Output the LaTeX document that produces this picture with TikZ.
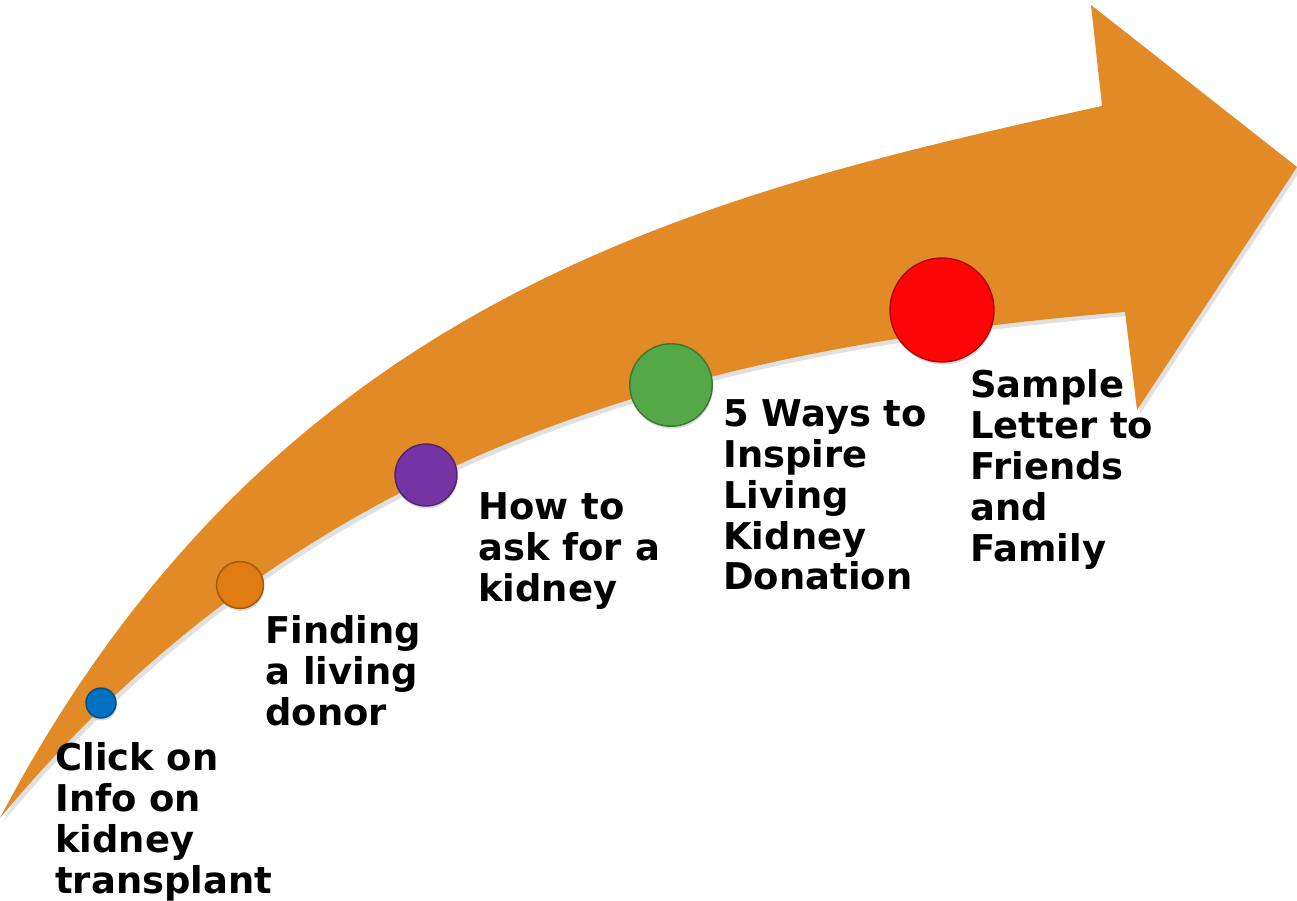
\documentclass[tikz,border=0pt]{standalone}
\usepackage{fontspec}
\setmainfont{DejaVu Sans}
\usepackage{tikz}
\usetikzlibrary{positioning,shadows}

\definecolor{arroworange}{RGB}{225,138,38}
\definecolor{ballblue}{RGB}{0,112,192}
\definecolor{ballorange}{RGB}{222,124,18}
\definecolor{ballpurple}{RGB}{116,52,164}
\definecolor{ballgreen}{RGB}{84,168,72}
\definecolor{ballred}{RGB}{255,6,6}

\begin{document}
\begin{tikzpicture}[
x=0.02cm, y=-0.02cm,
ball/.style={circle, inner sep=0pt, fill=#1, draw=#1!70!black, line width=0.8pt,
  drop shadow={opacity=0.3, shadow xshift=0.4pt, shadow yshift=-1.4pt}},
step label/.style={anchor=north west, inner sep=0pt, align=left,
  font=\fontsize{21}{23.3}\selectfont\bfseries},
]

\useasboundingbox (0,0) rectangle (1297,901);

% shadow of the arrow
\fill[black, opacity=0.12, shift={(3,4)}]
  (0,818) .. controls (275,295) and (702,194) .. (1102,106)
  -- (1091,5) -- (1297,167) -- (1137,410) -- (1125,312)
  .. controls (675,349) and (300,458) .. (0,818) -- cycle;

% the arrow
\fill[arroworange]
  (0,818) .. controls (275,295) and (702,194) .. (1102,106)
  -- (1091,5) -- (1297,167) -- (1137,410) -- (1125,312)
  .. controls (675,349) and (300,458) .. (0,818) -- cycle;

% the balls
\node[ball=ballblue, minimum size=0.6cm] (b1) at (101,703) {};
\node[ball=ballorange, minimum size=0.94cm] (b2) at (240,585) {};
\node[ball=ballpurple, minimum size=1.24cm] (b3) at (426,475) {};
\node[ball=ballgreen, minimum size=1.65cm] (b4) at (671,385) {};
\node[ball=ballred, minimum size=2.08cm] (b5) at (942,310) {};

% the steps
\node[step label] (t1) at (55,742) {Click on\\Info on\\kidney\\transplant};
\node[step label] (t2) at (265,615) {Finding\\a living\\donor};
\node[step label] (t3) at (478,492) {How to\\ask for a\\kidney};
\node[step label] (t4) at (723,399) {5 Ways to\\Inspire\\Living\\Kidney\\Donation};
\node[step label] (t5) at (970,369) {Sample\\Letter to\\Friends\\and\\Family};
\end{tikzpicture}
\end{document}
